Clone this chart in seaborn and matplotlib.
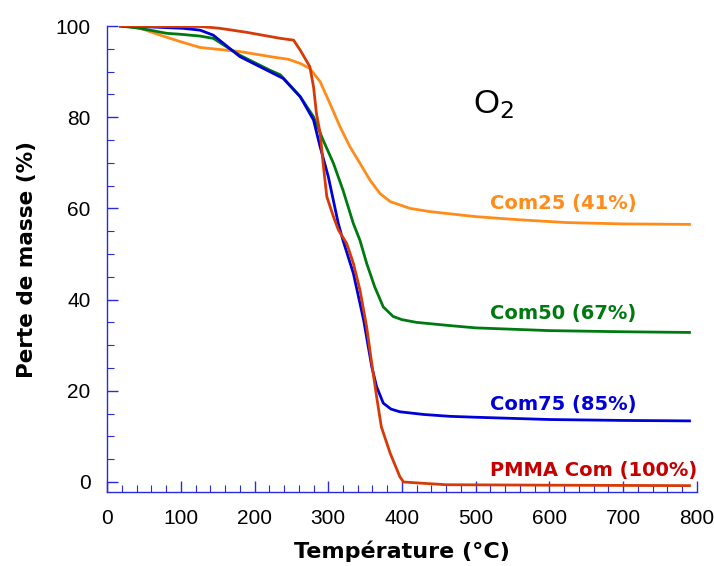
import numpy as np
import pandas as pd
import matplotlib
matplotlib.use("Agg")
import matplotlib.pyplot as plt
from matplotlib.ticker import MultipleLocator
import seaborn as sns

# Thermogravimetric curves under O2: temperature (°C) vs mass (%)
pmma_T = [18, 60, 100, 126, 153, 190, 235, 253, 262, 275, 280, 284, 289, 293, 298, 307, 313.7, 325,
          334, 343, 352, 359, 365.6, 372, 384, 397, 402, 430, 460, 600, 790]
pmma_m = [100, 99.9, 99.9, 99.9, 99.5, 98.6, 97.3, 96.9, 94.7, 91.1, 86.7, 80.8, 76.5, 69.9, 62.6,
          58.2, 55.3, 52.3, 48.0, 42.1, 34.1, 26.0, 18.7, 12.1, 6.3, 1.2, 0.0, -0.3, -0.6, -0.7, -0.8]

com75_T = [18, 60, 103, 126, 144, 180, 212, 239, 262, 280, 289, 300, 313.6, 320, 334, 348, 359, 365.6,
           374.6, 385, 397, 430, 465, 500, 600, 700, 790]
com75_m = [100, 99.8, 99.5, 99.1, 98.0, 93.3, 90.7, 88.5, 84.5, 79.4, 73.5, 67.0, 56.7, 53.0, 45.8,
           35.5, 25.3, 20.9, 17.3, 16.0, 15.4, 14.8, 14.4, 14.2, 13.7, 13.5, 13.4]

com50_T = [18, 40, 58, 81, 99, 126, 144, 180, 221, 235, 262, 280, 293, 307, 320, 334, 343, 352, 363,
           374.6, 388, 400, 420, 465, 500, 600, 700, 790]
com50_m = [100, 99.6, 99.1, 98.4, 98.2, 97.8, 97.3, 93.6, 90.3, 89.3, 84.5, 80.1, 75.0, 69.9, 64.0,
           56.7, 53.0, 48.0, 42.8, 38.4, 36.3, 35.6, 35.0, 34.3, 33.8, 33.2, 32.95, 32.8]

com25_T = [24, 45, 72, 99, 126, 180, 225, 246, 262, 275, 289, 302, 316, 329.5, 343, 356.6, 370, 384,
           411, 438, 500, 560, 623, 700, 790]
com25_m = [100, 99.5, 98.0, 96.6, 95.3, 94.4, 93.2, 92.7, 91.8, 90.7, 87.8, 83.1, 77.9, 73.5, 69.9,
           66.2, 63.3, 61.5, 60.0, 59.3, 58.2, 57.5, 56.9, 56.6, 56.5]

series_names = ["PMMA Com", "Com75", "Com50", "Com25"]
series_labels = ["PMMA Com (100%)", "Com75 (85%)", "Com50 (67%)", "Com25 (41%)"]
series_colors = ["#d63a08", "#0000d8", "#007a10", "#ff8c1a"]
label_colors = ["#c40000", "#0000d8", "#007a10", "#ff8c1a"]
label_pos = [(519, 2.6), (519, 16.9), (519, 37.0), (519, 61.0)]

frames = []
for name, T, m in zip(series_names,
                      [pmma_T, com75_T, com50_T, com25_T],
                      [pmma_m, com75_m, com50_m, com25_m]):
    frames.append(pd.DataFrame({"T": T, "m": m, "s": name}))
df = pd.concat(frames, ignore_index=True)

fig = plt.figure(figsize=(7.14, 5.66), dpi=100)
ax = fig.add_axes([0.150, 0.1307, 0.826, 0.8233])

# orange first so the darker curves sit on top
order = ["Com25", "Com50", "Com75", "PMMA Com"]
palette = dict(zip(series_names, series_colors))
for name in order:
    sub = df[df["s"] == name]
    sns.lineplot(data=sub, x="T", y="m", color=palette[name], lw=2.0,
                 estimator=None, sort=False, ax=ax, legend=False)

ax.set_xlim(0, 800)
ax.set_ylim(-2.2, 100)
ax.xaxis.set_major_locator(MultipleLocator(100))
ax.xaxis.set_minor_locator(MultipleLocator(20))
ax.yaxis.set_major_locator(MultipleLocator(20))
ax.yaxis.set_minor_locator(MultipleLocator(5))

spine_c = "#2a2ae0"
for side in ["top", "right"]:
    ax.spines[side].set_visible(False)
for side in ["left", "bottom"]:
    ax.spines[side].set_color(spine_c)
    ax.spines[side].set_linewidth(1.0)
ax.tick_params(which="both", direction="in", color=spine_c, labelcolor="black")
ax.tick_params(which="major", length=8, width=1.0, pad=12)
ax.tick_params(which="minor", length=5, width=0.8)
for lbl in ax.get_xticklabels() + ax.get_yticklabels():
    lbl.set_family("Liberation Sans")
    lbl.set_fontsize(15)

ax.set_xlabel("Température (°C)", fontsize=16, fontweight="bold", labelpad=9)
ax.set_ylabel("Perte de masse (%)", fontsize=15.5, fontweight="bold", labelpad=13)

for lab, col, (x, y) in zip(series_labels, label_colors, label_pos):
    ax.text(x, y, lab, color=col, fontsize=14, fontweight="bold", va="center", ha="left")

ax.text(497, 82.7, "O$_2$", fontsize=24, va="center", ha="left", color="black",
        family="Liberation Sans")

fig.savefig("out.png", dpi=100)
